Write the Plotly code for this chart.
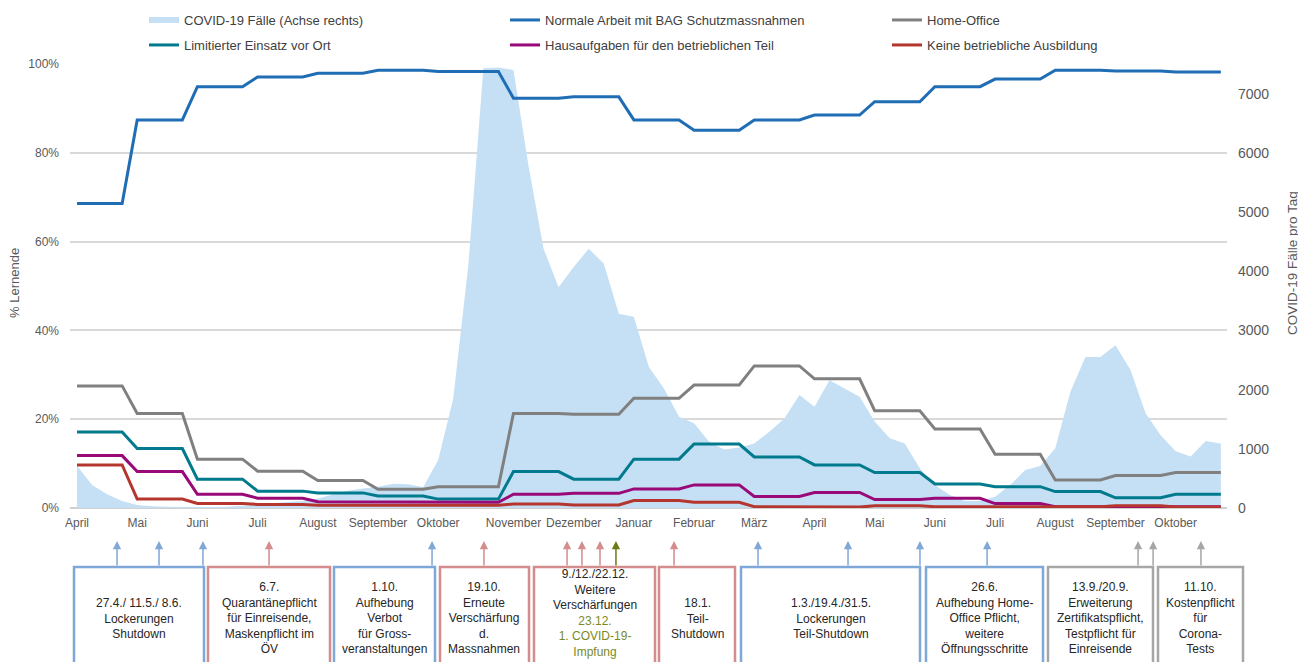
"""Lernende im Betrieb während COVID-19 – Excel-Chart nachgebaut mit Plotly."""
import plotly.graph_objects as go

# ─────────────────────────────────────────────
# Daten (eine Beobachtung pro Woche, April 2020 – Oktober 2021)
# ─────────────────────────────────────────────
WEEKS = list(range(77))

MONTH_TICKS = [0, 4, 8, 12, 16, 20, 24, 29, 33, 37, 41, 45, 49, 53, 57, 61, 65, 69, 73]
MONTH_LABELS = ["April", "Mai", "Juni", "Juli", "August", "September", "Oktober",
                "November", "Dezember", "Januar", "Februar", "März", "April", "Mai",
                "Juni", "Juli", "August", "September", "Oktober"]

COVID_CASES = [
    713, 388, 231, 120, 50, 30, 20, 15, 15, 15,
    20, 40, 55, 80, 100, 120, 160, 230, 290, 330,
    360, 410, 400, 350, 810, 1850, 4100, 7430, 7440, 7400,
    5780, 4380, 3730, 4070, 4380, 4130, 3280, 3230, 2380, 2020,
    1540, 1430, 1120, 990, 1020, 1090, 1290, 1510, 1910, 1710,
    2160, 2020, 1880, 1460, 1180, 1090, 670, 390, 220, 120,
    120, 190, 390, 640, 710, 1010, 1960, 2550, 2550, 2750,
    2330, 1600, 1230, 960, 870, 1130, 1090,
]

NORMAL = [
    68.6, 68.6, 68.6, 68.6, 87.4, 87.4, 87.4, 87.4, 94.9, 94.9,
    94.9, 94.9, 97.1, 97.1, 97.1, 97.1, 97.9, 97.9, 97.9, 97.9,
    98.6, 98.6, 98.6, 98.6, 98.3, 98.3, 98.3, 98.3, 98.3, 92.3,
    92.3, 92.3, 92.3, 92.6, 92.6, 92.6, 92.6, 87.4, 87.4, 87.4,
    87.4, 85.1, 85.1, 85.1, 85.1, 87.4, 87.4, 87.4, 87.4, 88.5,
    88.5, 88.5, 88.5, 91.5, 91.5, 91.5, 91.5, 94.9, 94.9, 94.9,
    94.9, 96.6, 96.6, 96.6, 96.6, 98.6, 98.6, 98.6, 98.6, 98.4,
    98.4, 98.4, 98.4, 98.2, 98.2, 98.2, 98.2,
]

HOME_OFFICE = [
    27.5, 27.5, 27.5, 27.5, 21.3, 21.3, 21.3, 21.3, 11.0, 11.0,
    11.0, 11.0, 8.3, 8.3, 8.3, 8.3, 6.2, 6.2, 6.2, 6.2,
    4.2, 4.2, 4.2, 4.2, 4.8, 4.8, 4.8, 4.8, 4.8, 21.3,
    21.3, 21.3, 21.3, 21.1, 21.1, 21.1, 21.1, 24.7, 24.7, 24.7,
    24.7, 27.7, 27.7, 27.7, 27.7, 32.0, 32.0, 32.0, 32.0, 29.1,
    29.1, 29.1, 29.1, 21.9, 21.9, 21.9, 21.9, 17.8, 17.8, 17.8,
    17.8, 12.1, 12.1, 12.1, 12.1, 6.3, 6.3, 6.3, 6.3, 7.3,
    7.3, 7.3, 7.3, 8.0, 8.0, 8.0, 8.0,
]

LIMITED = [
    17.1, 17.1, 17.1, 17.1, 13.4, 13.4, 13.4, 13.4, 6.5, 6.5,
    6.5, 6.5, 3.8, 3.8, 3.8, 3.8, 3.4, 3.4, 3.4, 3.4,
    2.7, 2.7, 2.7, 2.7, 2.0, 2.0, 2.0, 2.0, 2.0, 8.2,
    8.2, 8.2, 8.2, 6.5, 6.5, 6.5, 6.5, 11.0, 11.0, 11.0,
    11.0, 14.4, 14.4, 14.4, 14.4, 11.5, 11.5, 11.5, 11.5, 9.7,
    9.7, 9.7, 9.7, 8.0, 8.0, 8.0, 8.0, 5.4, 5.4, 5.4,
    5.4, 4.8, 4.8, 4.8, 4.8, 3.7, 3.7, 3.7, 3.7, 2.3,
    2.3, 2.3, 2.3, 3.1, 3.1, 3.1, 3.1,
]

HOMEWORK = [
    11.8, 11.8, 11.8, 11.8, 8.2, 8.2, 8.2, 8.2, 3.1, 3.1,
    3.1, 3.1, 2.2, 2.2, 2.2, 2.2, 1.4, 1.4, 1.4, 1.4,
    1.3, 1.3, 1.3, 1.3, 1.3, 1.3, 1.3, 1.3, 1.3, 3.1,
    3.1, 3.1, 3.1, 3.3, 3.3, 3.3, 3.3, 4.3, 4.3, 4.3,
    4.3, 5.2, 5.2, 5.2, 5.2, 2.6, 2.6, 2.6, 2.6, 3.5,
    3.5, 3.5, 3.5, 1.9, 1.9, 1.9, 1.9, 2.2, 2.2, 2.2,
    2.2, 1.0, 1.0, 1.0, 1.0, 0.3, 0.3, 0.3, 0.3, 0.3,
    0.3, 0.3, 0.3, 0.3, 0.3, 0.3, 0.3,
]

NO_TRAINING = [
    9.7, 9.7, 9.7, 9.7, 2.0, 2.0, 2.0, 2.0, 1.0, 1.0,
    1.0, 1.0, 0.8, 0.8, 0.8, 0.8, 0.6, 0.6, 0.6, 0.6,
    0.6, 0.6, 0.6, 0.6, 0.6, 0.6, 0.6, 0.6, 0.6, 0.9,
    0.9, 0.9, 0.9, 0.7, 0.7, 0.7, 0.7, 1.7, 1.7, 1.7,
    1.7, 1.3, 1.3, 1.3, 1.3, 0.3, 0.3, 0.3, 0.3, 0.2,
    0.2, 0.2, 0.2, 0.5, 0.5, 0.5, 0.5, 0.3, 0.3, 0.3,
    0.3, 0.3, 0.3, 0.3, 0.3, 0.3, 0.3, 0.3, 0.3, 0.5,
    0.5, 0.5, 0.5, 0.2, 0.2, 0.2, 0.2,
]

# Massnahmen: Zeitpunkt auf der Wochenachse und Art
EVENT_WEEKS = [2.66, 5.45, 8.37, 12.76, 23.59, 27.04, 32.56, 33.55, 34.75,
               35.81, 39.67, 45.25, 51.23, 56.01, 60.47, 70.5, 71.5, 74.68]
EVENT_KINDS = ["open", "open", "open", "tight", "open", "tight", "tight", "tight", "tight",
               "vacc", "tight", "open", "open", "open", "open", "cert", "cert", "cert"]

BOX_TEXTS = [
    "27.4./ 11.5./ 8.6.<br>Lockerungen<br>Shutdown",
    "6.7.<br>Quarantänepflicht<br>für Einreisende,<br>Maskenpflicht im<br>ÖV",
    "1.10.<br>Aufhebung<br>Verbot<br>für Gross-<br>veranstaltungen",
    "19.10.<br>Erneute<br>Verschärfung<br>d.<br>Massnahmen",
    "9./12./22.12.<br>Weitere<br>Verschärfungen<br>"
    "<span style='color:#7A8A1E'>23.12.<br>1. COVID-19-<br>Impfung</span>",
    "18.1.<br>Teil-<br>Shutdown",
    "1.3./19.4./31.5.<br>Lockerungen<br>Teil-Shutdown",
    "26.6.<br>Aufhebung Home-<br>Office Pflicht,<br>weitere<br>Öffnungsschritte",
    "13.9./20.9.<br>Erweiterung<br>Zertifikatspflicht,<br>Testpflicht für<br>Einreisende",
    "11.10.<br>Kostenpflicht<br>für<br>Corona-<br>Tests",
]
BOX_KINDS = ["open", "tight", "open", "tight", "tight", "tight", "open", "open", "cert", "cert"]

# ─────────────────────────────────────────────
# Styles / Layout-Geometrie (Pixel im 1306x662 Bild)
# ─────────────────────────────────────────────
FONT = "Liberation Sans, Arial, sans-serif"
KIND_COLORS = {"open": "#7FA8D8", "tight": "#D48C8C", "cert": "#A6A6A6", "vacc": "#6B7A12"}
PAGE_OFFSET = 8  # body margin of the html page
W, H = 1306 - PAGE_OFFSET, 662 - PAGE_OFFSET
PLOT_L, PLOT_R, PLOT_T, PLOT_B = 70, 1227, 64, 508  # in screenshot pixels
BOX_EDGES = [(74, 204), (208, 330), (334, 435), (440, 529), (534, 655),
             (659, 735), (741, 920), (926, 1043), (1048, 1153), (1158, 1243)]
BOX_TEXT_Y = [618, 618, 618, 618, 613, 618, 618, 618, 618, 618]


def px_x(px):
    return (px - PLOT_L) / (PLOT_R - PLOT_L)


def px_y(py):
    return (PLOT_B - py) / (PLOT_B - PLOT_T)


fig = go.Figure()

# Fläche auf der Hauptachse (rechts), damit die Linien darüber liegen
fig.add_trace(go.Scatter(
    x=WEEKS, y=COVID_CASES, name="COVID-19 Fälle (Achse rechts)",
    mode="none", fill="tozeroy", fillcolor="#C5E0F5", legend="legend",
))

LINES = [
    ("Normale Arbeit mit BAG Schutzmassnahmen", NORMAL, "#1F6DB5"),
    ("Home-Office", HOME_OFFICE, "#808080"),
    ("Limitierter Einsatz vor Ort", LIMITED, "#007A8C"),
    ("Hausaufgaben für den betrieblichen Teil", HOMEWORK, "#990A78"),
    ("Keine betriebliche Ausbildung", NO_TRAINING, "#B5362E"),
]
for k, (name, values, color) in enumerate(LINES):
    fig.add_trace(go.Scatter(
        x=WEEKS, y=values, name=name, mode="lines", yaxis="y2",
        line=dict(color=color, width=3), legend=f"legend{k + 2}",
    ))

# Legende: 2 Zeilen x 3 Spalten, jede Zelle eine eigene Legende
legend_cells = [(144, 20), (505, 20), (887, 20), (144, 45), (505, 45), (887, 45)]
legends = {}
for k, (lx, ly) in enumerate(legend_cells):
    key = "legend" if k == 0 else f"legend{k + 1}"
    legends[key] = dict(
        x=px_x(lx), y=px_y(ly), xanchor="left", yanchor="middle",
        bgcolor="rgba(0,0,0,0)", font=dict(family=FONT, size=13, color="#404040"),
    )

# Kästen mit Massnahmen
shapes = []
annotations = []
for (x0, x1), text, kind, ty in zip(BOX_EDGES, BOX_TEXTS, BOX_KINDS, BOX_TEXT_Y):
    shapes.append(dict(
        type="rect", xref="paper", yref="paper",
        x0=px_x(x0), x1=px_x(x1), y0=px_y(567), y1=px_y(720),
        line=dict(color=KIND_COLORS[kind], width=2.5),
    ))
    annotations.append(dict(
        xref="paper", yref="paper", x=px_x((x0 + x1) / 2), y=px_y(ty),
        text=text, showarrow=False, xanchor="center", yanchor="middle",
        font=dict(family=FONT, size=12, color="#262626"),
    ))

# Pfeile zu den Zeitpunkten
for wk, kind in zip(EVENT_WEEKS, EVENT_KINDS):
    annotations.append(dict(
        xref="x", yref="paper", x=wk, y=px_y(541), text="",
        showarrow=True, ax=0, ay=26, arrowhead=2, arrowsize=1.1,
        arrowwidth=1.5, arrowcolor=KIND_COLORS[kind], standoff=0,
    ))

# Achsentitel
annotations.append(dict(
    xref="paper", yref="paper", x=px_x(14), y=px_y(283), text="% Lernende",
    textangle=-90, showarrow=False, xanchor="center", yanchor="middle",
    font=dict(family=FONT, size=13, color="#595959"),
))
annotations.append(dict(
    xref="paper", yref="paper", x=px_x(1292), y=px_y(263), text="COVID-19 Fälle pro Tag",
    textangle=-90, showarrow=False, xanchor="center", yanchor="middle",
    font=dict(family=FONT, size=13.5, color="#595959"),
))

fig.update_layout(
    width=W, height=H,
    margin=dict(l=PLOT_L - PAGE_OFFSET, r=W - (PLOT_R - PAGE_OFFSET),
                t=PLOT_T - PAGE_OFFSET, b=H - (PLOT_B - PAGE_OFFSET), autoexpand=False),
    paper_bgcolor="white", plot_bgcolor="white",
    font=dict(family=FONT, size=12, color="#595959"),
    showlegend=True,
    shapes=shapes, annotations=annotations,
    xaxis=dict(
        range=[-0.465, 76.41], tickvals=MONTH_TICKS, ticktext=MONTH_LABELS,
        showgrid=False, zeroline=False, showline=False, ticks="",
        tickfont=dict(size=12, color="#595959"), ticklabelstandoff=6,
    ),
    yaxis=dict(
        side="right", range=[0, 7500], tickvals=list(range(0, 7001, 1000)),
        showgrid=False, zeroline=False, showline=False, ticks="",
        tickfont=dict(size=14, color="#595959"), ticklabelstandoff=10,
    ),
    yaxis2=dict(
        overlaying="y", side="left", range=[0, 100], dtick=20, ticksuffix="%",
        showgrid=True, gridcolor="#D9D9D9", gridwidth=1.5,
        zeroline=True, zerolinecolor="#D0D0D0", zerolinewidth=1.5,
        showline=False, ticks="",
        tickfont=dict(size=12, color="#595959"), ticklabelstandoff=10,
    ),
    **legends,
)

fig.write_html("out.html")
